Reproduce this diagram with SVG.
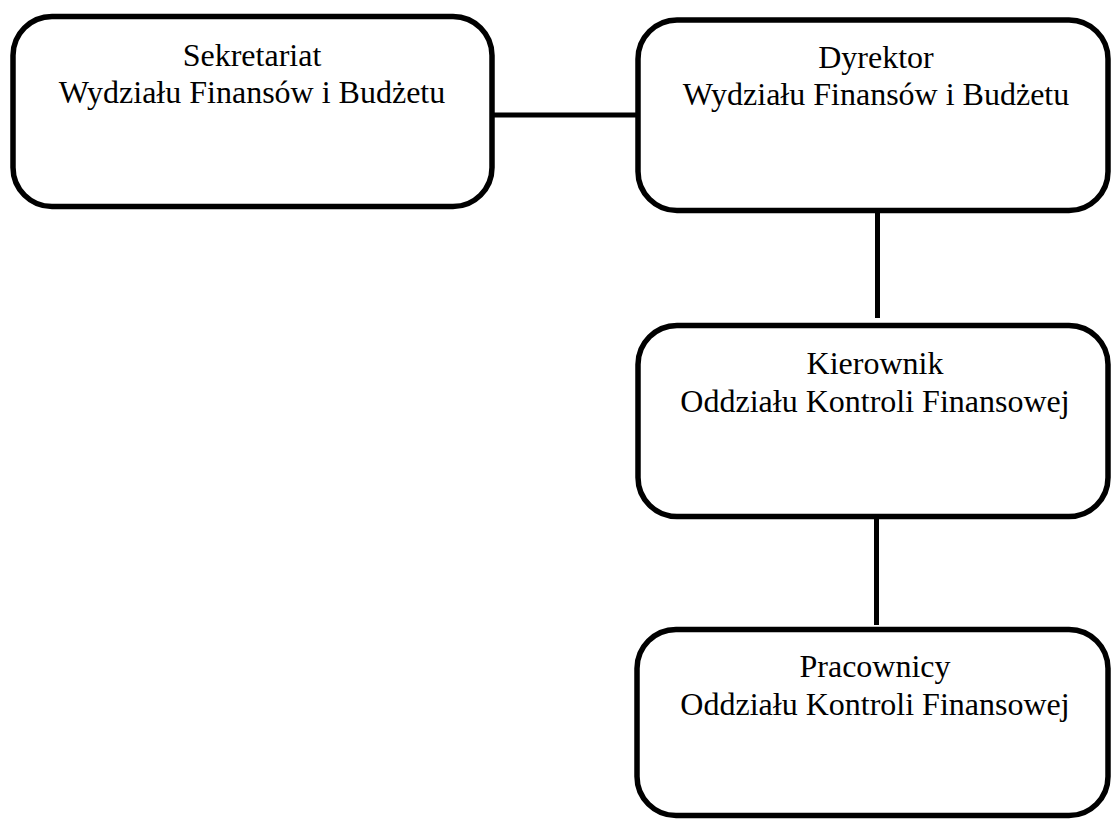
<svg xmlns="http://www.w3.org/2000/svg" width="1111" height="819" viewBox="0 0 1111 819">
  <style>
    .box { fill: #ffffff; stroke: #000000; stroke-width: 5.5; }
    .link { stroke: #000000; stroke-width: 5; fill: none; }
    .label { font-size: 32px; fill: #000000; text-anchor: middle; }
  </style>
  <rect width="1111" height="819" fill="#ffffff"/>

  <!-- connectors -->
  <g id="connectors">
    <line class="link" x1="492" y1="115" x2="638" y2="115"/>
    <line class="link" x1="877.5" y1="210" x2="877.5" y2="318"/>
    <line class="link" x1="876.5" y1="517" x2="876.5" y2="625"/>
  </g>

  <!-- Sekretariat -->
  <g id="sekretariat">
    <rect class="box" x="13" y="16.5" width="479" height="190" rx="39" ry="39"/>
    <text class="label" font-family="Times New Roman, Liberation Serif, serif" x="252" y="66">Sekretariat</text>
    <text class="label" font-family="Times New Roman, Liberation Serif, serif" x="252" y="103">Wydziału Finansów i Budżetu</text>
  </g>

  <!-- Dyrektor -->
  <g id="dyrektor">
    <rect class="box" x="638" y="20" width="470" height="190.5" rx="39" ry="39"/>
    <text class="label" font-family="Times New Roman, Liberation Serif, serif" x="876" y="68">Dyrektor</text>
    <text class="label" font-family="Times New Roman, Liberation Serif, serif" x="876" y="105">Wydziału Finansów i Budżetu</text>
  </g>

  <!-- Kierownik -->
  <g id="kierownik">
    <rect class="box" x="638" y="325.5" width="470" height="191" rx="39" ry="39"/>
    <text class="label" font-family="Times New Roman, Liberation Serif, serif" x="875" y="374">Kierownik</text>
    <text class="label" font-family="Times New Roman, Liberation Serif, serif" x="875" y="411.5">Oddziału Kontroli Finansowej</text>
  </g>

  <!-- Pracownicy -->
  <g id="pracownicy">
    <rect class="box" x="637" y="629.5" width="471" height="186" rx="39" ry="39"/>
    <text class="label" font-family="Times New Roman, Liberation Serif, serif" x="875" y="677">Pracownicy</text>
    <text class="label" font-family="Times New Roman, Liberation Serif, serif" x="875" y="715">Oddziału Kontroli Finansowej</text>
  </g>
</svg>
